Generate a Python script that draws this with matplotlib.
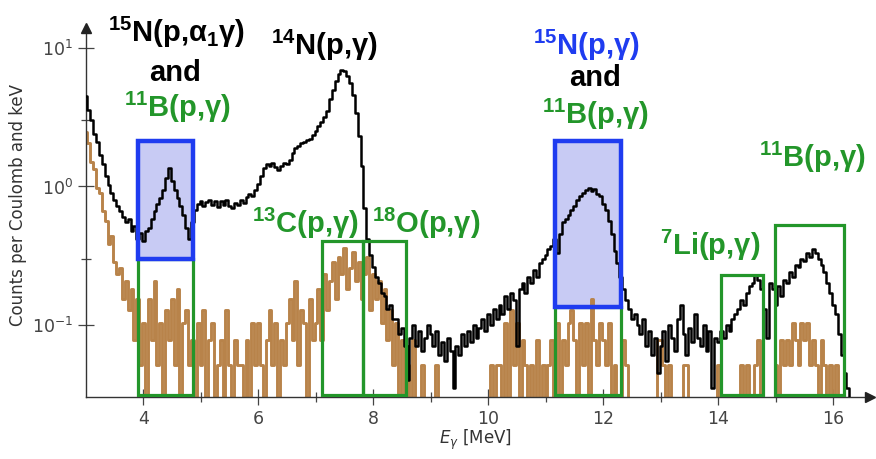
import numpy as np
import matplotlib.pyplot as plt
from matplotlib.patches import Rectangle
from matplotlib.ticker import FixedLocator, NullFormatter

# spectra binned in 0.05 MeV steps starting at 3.00 MeV
bin_width = 0.05
e_start = 3.0

# target spectrum (counts per Coulomb and keV), one row per MeV
target = [
    4.5, 3.6, 3.0, 2.4, 2.1, 1.7, 1.45, 1.2, 1.02, 0.9, 0.8, 0.72, 0.66, 0.6, 0.55, 0.58, 0.48, 0.52, 0.42, 0.46,
    0.4, 0.48, 0.5, 0.58, 0.66, 0.75, 0.82, 0.95, 1.15, 1.35, 1.1, 0.95, 0.82, 0.72, 0.62, 0.5, 0.42, 0.55, 0.68, 0.75,
    0.78, 0.72, 0.77, 0.8, 0.74, 0.79, 0.71, 0.78, 0.74, 0.8, 0.72, 0.7, 0.76, 0.73, 0.8, 0.76, 0.84, 0.88, 0.85, 0.95,
    1.05, 1.2, 1.35, 1.45, 1.4, 1.48, 1.38, 1.32, 1.4, 1.48, 1.45, 1.55, 1.75, 1.9, 1.95, 2.05, 2.1, 2.15, 2.2, 2.35,
    2.5, 2.75, 2.95, 3.2, 3.5, 4.3, 5.0, 5.8, 6.5, 7.0, 6.8, 6.3, 5.6, 4.6, 3.4, 2.3, 1.4, 0.7, 0.42, 0.32,
    0.26, 0.22, 0.2, 0.17, 0.16, 0.13, 0.14, 0.11, 0.11, 0.085, 0.095, 0.07, 0.04, 0.08, 0.1, 0.07, 0.09, 0.065, 0.08, 0.1,
    0.085, 0.07, 0.09, 0.06, 0.075, 0.055, 0.08, 0.065, 0.035, 0.07, 0.06, 0.085, 0.07, 0.09, 0.075, 0.1, 0.08, 0.095, 0.11, 0.09,
    0.12, 0.1, 0.13, 0.11, 0.14, 0.12, 0.16, 0.13, 0.17, 0.15, 0.07, 0.18, 0.2, 0.17, 0.22, 0.2, 0.25, 0.22, 0.28, 0.3,
    0.32, 0.35, 0.37, 0.42, 0.33, 0.45, 0.55, 0.58, 0.62, 0.68, 0.72, 0.8, 0.85, 0.9, 0.95, 0.98, 0.93, 0.96, 0.88, 0.85,
    0.75, 0.68, 0.56, 0.45, 0.34, 0.28, 0.22, 0.18, 0.15, 0.13, 0.11, 0.12, 0.1, 0.085, 0.11, 0.07, 0.09, 0.06, 0.08, 0.045,
    0.07, 0.09, 0.055, 0.1, 0.08, 0.065, 0.11, 0.14, 0.085, 0.06, 0.095, 0.075, 0.12, 0.08, 0.07, 0.1, 0.065, 0.09, 0.035, 0.08,
    0.075, 0.09, 0.08, 0.1, 0.09, 0.11, 0.12, 0.13, 0.15, 0.14, 0.17, 0.19, 0.2, 0.23, 0.21, 0.18, 0.13, 0.08, 0.2, 0.18,
    0.14, 0.19, 0.16, 0.21, 0.2, 0.24, 0.22, 0.27, 0.26, 0.3, 0.29, 0.33, 0.31, 0.35, 0.33, 0.3, 0.27, 0.24, 0.2, 0.17,
    0.14, 0.12, 0.085, 0.06, 0.045, 0.035, 0.02,
]

# background run, raw counts per bin and the size of one count
background_counts = [
    96, 80, 58, 52, 38, 35, 26, 22, 15, 17, 11, 9, 10, 6, 8, 5, 7, 3, 6, 2,
    4, 0, 6, 3, 8, 2, 4, 0, 5, 3, 6, 2, 7, 0, 4, 5, 2, 3, 0, 4,
    2, 5, 0, 3, 4, 0, 2, 3, 0, 5, 2, 0, 3, 2, 2, 0, 3, 0, 4, 2,
    4, 2, 0, 3, 5, 2, 4, 0, 3, 2, 4, 6, 3, 8, 2, 5, 4, 0, 6, 3,
    4, 7, 3, 9, 5, 8, 11, 6, 12, 9, 14, 7, 10, 13, 8, 11, 6, 9, 12, 5,
    9, 6, 8, 4, 7, 3, 5, 2, 4, 0, 3, 0, 2, 0, 3, 0, 0, 2, 0, 0,
    0, 0, 2, 0, 0, 0, 0, 0, 0, 0, 0, 0, 0, 0, 0, 0, 0, 0, 0, 0,
    0, 2, 0, 2, 2, 0, 4, 0, 5, 2, 4, 0, 3, 2, 0, 2, 0, 3, 0, 2,
    0, 2, 3, 0, 4, 0, 3, 2, 4, 5, 3, 0, 4, 2, 4, 0, 6, 3, 2, 4,
    3, 2, 4, 0, 2, 0, 0, 3, 2, 0, 0, 0, 0, 0, 0, 0, 0, 0, 0, 3,
    3, 2, 0, 2, 0, 0, 0, 0, 2, 2, 0, 0, 0, 0, 0, 0, 0, 0, 0, 0,
    2, 0, 0, 0, 0, 0, 0, 0, 2, 0, 2, 0, 0, 2, 3, 0, 0, 0, 0, 0,
    2, 0, 3, 2, 3, 2, 4, 3, 2, 4, 3, 4, 2, 3, 2, 0, 3, 2, 0, 2,
    0, 2, 0, 0, 0, 0, 0, 0, 0, 0,
]
count_unit = 0.0257

# gamma windows: (E low, E high, y low, y high)
blue_windows = [(3.90, 4.86, 0.30, 2.12), (11.16, 12.30, 0.134, 2.12)]
green_windows = [
    (3.90, 4.86, 0.031, 0.30),
    (7.10, 7.82, 0.031, 0.40),
    (7.82, 8.57, 0.031, 0.40),
    (11.16, 12.30, 0.031, 0.134),
    (14.04, 14.77, 0.031, 0.23),
    (14.98, 16.18, 0.031, 0.53),
]

BROWN = '#b8834a'
GREEN = '#23962a'
BLUE = '#1f3cf0'
BLUE_FILL = '#c8cbf4'

plt.rcParams['mathtext.rm'] = 'Liberation Sans:bold'
plt.rcParams['mathtext.it'] = 'Liberation Sans:bold'
plt.rcParams['mathtext.bf'] = 'Liberation Sans:bold'
plt.rcParams['mathtext.sf'] = 'Liberation Sans:bold'

W, H = 876, 459
fig = plt.figure(figsize=(W / 100, H / 100), dpi=100)
ax = fig.add_axes([86 / W, 1 - 397 / H, (870 - 86) / W, (397 - 28) / H])

e_target = e_start + bin_width * np.arange(len(target))
e_bg = e_start + bin_width * np.arange(len(background_counts))
bg = np.array(background_counts, dtype=float) * count_unit
bg[bg <= 0] = 1e-3

for x0, x1, y0, y1 in blue_windows:
    ax.add_patch(Rectangle((x0, y0), x1 - x0, y1 - y0, facecolor=BLUE_FILL,
                           edgecolor='none', zorder=0.5))

ax.plot(e_bg, bg, drawstyle='steps-mid', color=BROWN, lw=2.1, zorder=2)
ax.plot(e_target, target, drawstyle='steps-mid', color='black', lw=1.8, zorder=3)

for x0, x1, y0, y1 in green_windows:
    ax.add_patch(Rectangle((x0, y0), x1 - x0, y1 - y0, facecolor='none',
                           edgecolor=GREEN, lw=2.3, zorder=4))
for x0, x1, y0, y1 in blue_windows:
    ax.add_patch(Rectangle((x0, y0), x1 - x0, y1 - y0, facecolor='none',
                           edgecolor=BLUE, lw=3.2, zorder=5))

ax.set_yscale('log')
ax.set_xlim(3.0, 16.635)
ax.set_ylim(0.03, 14)

ax.xaxis.set_major_locator(FixedLocator([4, 6, 8, 10, 12, 14, 16]))
ax.xaxis.set_minor_locator(FixedLocator([5, 7, 9, 11, 13, 15]))
ax.yaxis.set_major_locator(FixedLocator([0.1, 1, 10]))
ax.yaxis.set_minor_locator(FixedLocator([0.3, 3]))
ax.yaxis.set_minor_formatter(NullFormatter())
ax.tick_params(which='major', direction='inout', length=11, width=0.9,
               colors='#444444', labelsize=12.5, pad=4)
ax.tick_params(which='minor', direction='inout', length=7, width=0.9, colors='#444444')

for side in ['top', 'right']:
    ax.spines[side].set_visible(False)
for side in ['left', 'bottom']:
    ax.spines[side].set_color('#333333')
    ax.spines[side].set_linewidth(1.0)

# arrow heads at the ends of the axes
ax.plot(1, 0, '>', color='#222222', ms=7, transform=ax.transAxes, clip_on=False, zorder=6)
ax.plot(0, 1, '^', color='#222222', ms=7, transform=ax.transAxes, clip_on=False, zorder=6)

fig.text(18 / W, 1 - 205 / H, 'Counts per Coulomb and keV', rotation=90,
         ha='center', va='center', fontsize=12, color='#333333')
fig.text(475 / W, 1 - 440 / H, r'$E_\gamma$ [MeV]', ha='center', va='center',
         fontsize=12, color='#333333', math_fontfamily='dejavusans')

labels = [
    (r'$^{15}$N(p,α$_{1}$γ)', 177, 42, 'black'),
    ('and', 175, 81, 'black'),
    (r'$^{11}$B(p,γ)', 177, 117, GREEN),
    (r'$^{14}$N(p,γ)', 324, 55, 'black'),
    (r'$^{13}$C(p,γ)', 305, 233, GREEN),
    (r'$^{18}$O(p,γ)', 426, 233, GREEN),
    (r'$^{15}$N(p,γ)', 586, 55, BLUE),
    ('and', 595, 86, 'black'),
    (r'$^{11}$B(p,γ)', 595, 124, GREEN),
    (r'$^{7}$Li(p,γ)', 710, 255, GREEN),
    (r'$^{11}$B(p,γ)', 812, 167, GREEN),
]
for text, px, py, col in labels:
    fig.text(px / W, 1 - py / H, text, ha='center', va='baseline', fontsize=21,
             fontweight='bold', family='Liberation Sans', color=col,
             math_fontfamily='custom')

fig.savefig('out.png', dpi=100)
